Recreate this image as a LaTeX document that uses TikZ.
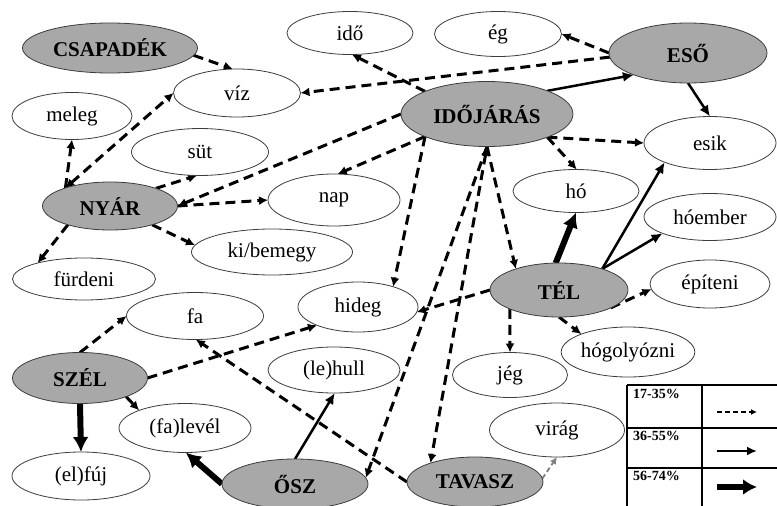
\documentclass[tikz,border=0pt]{standalone}
\usepackage{fontspec}
\setmainfont{Liberation Serif}
\usetikzlibrary{shapes.geometric,arrows.meta,backgrounds}
\definecolor{grayfill}{RGB}{168,168,168}
\definecolor{edgegray}{RGB}{60,60,60}
\begin{document}
\begin{tikzpicture}[x=1pt,y=-1pt,
  sz/.style 2 args={minimum width=#1pt,minimum height=#2pt},
  el/.style={ellipse,draw=edgegray,line width=0.8pt,fill=white,inner sep=0pt,outer sep=0pt,font=\fontsize{21}{24}\selectfont},
  gr/.style={el,fill=grayfill,font=\fontsize{21}{24}\selectfont\bfseries},
  dsh/.style={line width=3pt,dash pattern=on 10pt off 6pt,-{Latex[length=9pt,width=9pt]}},
  dshb/.style={line width=3pt,dash pattern=on 10pt off 6pt,{Latex[length=9pt,width=9pt]}-{Latex[length=9pt,width=9pt]}},
  sol/.style={line width=2.5pt,-{Latex[length=11pt,width=10pt]}},
  thk/.style={line width=6pt,-{Latex[length=15pt,width=16pt]}},
  gdsh/.style={draw=gray,line width=1.8pt,dash pattern=on 5pt off 3pt,-{Latex[length=7pt,width=7pt]}},
  lgtext/.style={anchor=north west,inner sep=0pt,font=\fontsize{14}{16}\selectfont\bfseries},
  tbl/.style={line width=1.6pt},
]
\useasboundingbox (0,0) rectangle (777,506);

% nodes
\node[gr,sz={175}{50}] (csap) at (110,48) {CSAPADÉK};
\node[el,sz={126}{43}] (ido) at (350,33) {idő};
\node[el,sz={127}{45}] (eg) at (498,34) {ég};
\node[gr,sz={158}{60}] (eso) at (688,53) {ESŐ};
\node[el,sz={127}{48}] (viz) at (237,93) {víz};
\node[el,sz={120}{47}] (meleg) at (72,116) {meleg};
\node[gr,sz={172}{65}] (idoj) at (487,114) {IDŐJÁRÁS};
\node[el,sz={132}{53}] (esik) at (710,143) {esik};
\node[el,sz={137}{47}] (sut) at (200,152) {süt};
\node[gr,sz={135}{48}] (nyar) at (110,206) {NYÁR};
\node[el,sz={132}{52}] (nap) at (334,200) {nap};
\node[el,sz={126}{43}] (ho) at (576,191) {hó};
\node[el,sz={132}{47}] (hoember) at (710,217) {hóember};
\node[el,sz={161}{46}] (kibe) at (272,252) {ki/bemegy};
\node[el,sz={143}{42}] (furd) at (84,279) {fürdeni};
\node[el,sz={137}{47}] (fa) at (195,316) {fa};
\node[el,sz={120}{50}] (hideg) at (358,307) {hideg};
\node[gr,sz={138}{54}] (tel) at (559,290) {TÉL};
\node[el,sz={120}{48}] (epit) at (710,284) {építeni};
\node[gr,sz={135}{51}] (szel) at (80,378) {SZÉL};
\node[el,sz={132}{46}] (hull) at (334,370) {(le)hull};
\node[el,sz={133}{50}] (hogoly) at (628,352) {hógolyózni};
\node[el,sz={115}{45}] (jeg) at (510,375) {jég};
\node[el,sz={132}{49}] (level) at (185,428) {(fa)levél};
\node[el,sz={135}{54}] (virag) at (557,430) {virág};
\node[el,sz={138}{48}] (fuj) at (81,476) {(el)fúj};
\node[gr,sz={146}{50}] (osz) at (295,484) {ŐSZ};
\node[gr,sz={136}{50}] (tavasz) at (475,482) {TAVASZ};

% edges
\begin{scope}[on background layer]
\draw[dsh] (csap.-5) -- (viz.100);
\draw[dshb] (nyar.158) -- (viz.180);
\draw[dsh] (nyar.158) -- (meleg.-90);
\draw[dsh] (nyar.-156) -- (furd.161);
\draw[dsh] (nyar.-24) -- (kibe.175);
\draw[dsh] (nyar.21) -- (sut.-97);
\draw[dsh] (nyar.0) -- (nap.180);
\draw[dsh] (idoj.180) -- (nyar.0);
\draw[dsh] (idoj.200) -- (nap.82);
\draw[dsh] (idoj.200) -- (hideg.30);
\draw[dsh] (idoj.-90) -- (tel.154);
\draw[dsh] (idoj.-90) -- (osz.5);
\draw[dshb] (idoj.-90) -- (tavasz.157);
\draw[dsh] (tel.180) -- (hideg.-5);
\draw[dsh] (tel.-159) -- (jeg.north);
\draw[dsh] (tel.-90) -- (hogoly.159);
\draw[dsh] (tel.-19) -- (epit.185);
\draw[thk] (tel.97) -- (ho.-90);
\draw[sol] (tel.26) -- (esik.203);
\draw[sol] (tel.26) -- (hoember.199);
\draw[dsh] (idoj.-21) -- (ho.88);
\draw[dsh] (idoj.-21) -- (esik.180);
\draw[sol] (idoj.21) -- (eso.202);
\draw[sol] (eso.-90) -- (esik.north);
\draw[dsh] (eso.180) -- (eg.0);
\draw[dsh] (eso.183) -- (viz.0);
\draw[dsh] (idoj.160) -- (ido.-85);
\draw[dsh] (szel.90) -- (fa.180);
\draw[dsh] (szel.0) -- (hideg.204);
\draw[dsh] (szel.-22) -- (level.159);
\draw[thk] (szel.south) -- (fuj.north);
\draw[thk] (osz.180) -- (level.-88);
\draw[sol] (osz.90) -- (hull.-88);
\draw[dsh] (tavasz.180) -- (fa.-88);
\draw[gdsh] (tavasz.3) -- (virag.-90);
\end{scope}

% legend
\draw[tbl] (627,385) -- (777,385);
\draw[tbl] (627,385) -- (627,506);
\draw[tbl] (702,385) -- (702,506);
\draw[tbl] (627,428) -- (777,428);
\draw[tbl] (627,468) -- (777,468);
\node[lgtext] (l1) at (633,389) {17-35\%};
\node[lgtext] (l2) at (633,431) {36-55\%};
\node[lgtext] (l3) at (633,471) {56-74\%};
\coordinate (a1s) at (717,412);
\coordinate (a1e) at (757,412);
\coordinate (a2s) at (717,451);
\coordinate (a2e) at (757,451);
\coordinate (a3s) at (717,487);
\coordinate (a3e) at (757,487);
\draw[line width=1.4pt,dash pattern=on 4.5pt off 3.5pt,-{Latex[length=6pt,width=6pt]}] (a1s) -- (a1e);
\draw[line width=2.2pt,-{Latex[length=10pt,width=9pt]}] (a2s) -- (a2e);
\draw[line width=5.5pt,-{Latex[length=14pt,width=16pt]}] (a3s) -- (a3e);
\end{tikzpicture}
\end{document}
